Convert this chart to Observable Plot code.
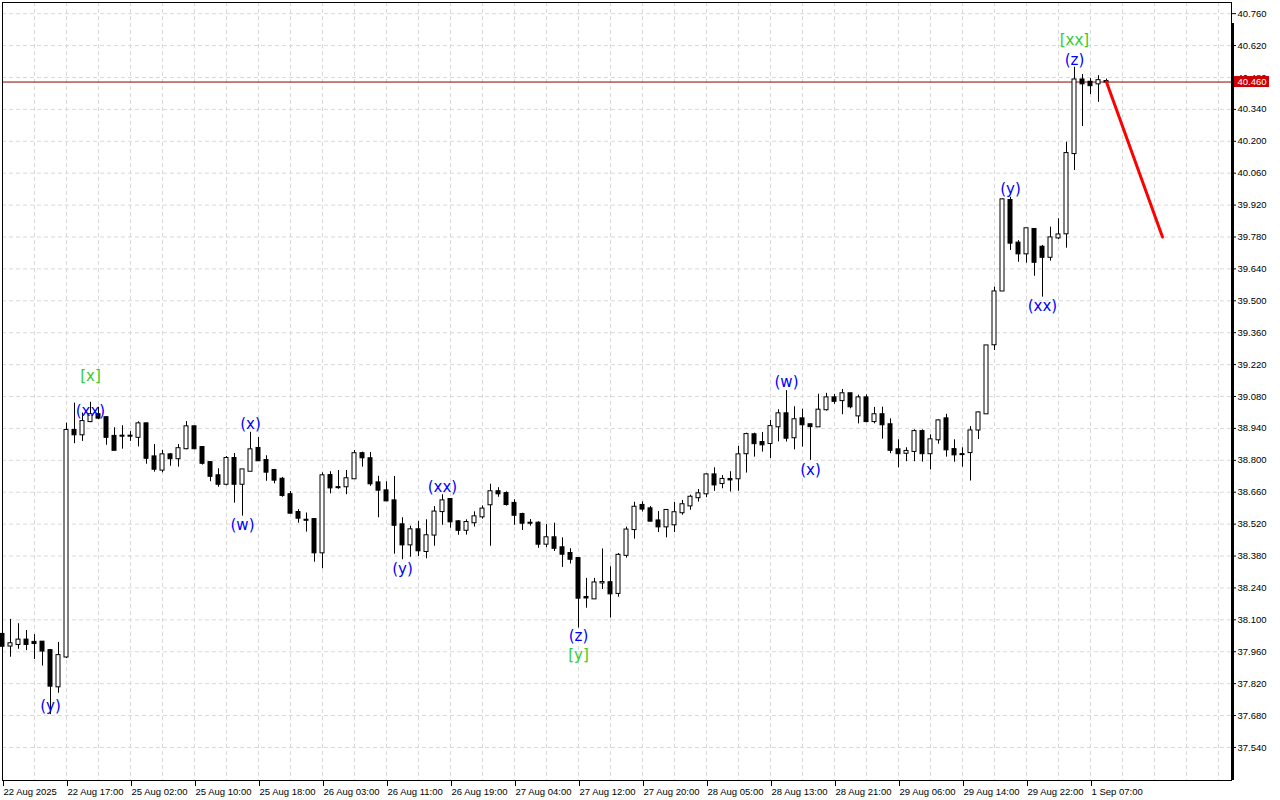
<!DOCTYPE html>
<html>
<head>
<meta charset="utf-8">
<script src="https://cdn.jsdelivr.net/npm/d3@7"></script>
<script src="https://cdn.jsdelivr.net/npm/@observablehq/plot@0.6"></script>
<style>
html,body{margin:0;padding:0;background:#fff;overflow:hidden}
#chart svg{display:block}
</style>
</head>
<body>
<div id="chart"></div>
<script>
// Hourly bars (index 0 = 22 Aug 2025 09:00)
const opens = [38.036,37.985,37.992,38.011,38.001,38.002,37.965,37.806,37.937,38.931,38.912,38.970,39.000,38.987,38.905,38.906,38.906,38.901,38.960,38.815,38.757,38.824,38.807,38.851,38.947,38.856,38.790,38.732,38.695,38.808,38.695,38.752,38.852,38.799,38.755,38.717,38.649,38.571,38.537,38.540,38.394,38.733,38.680,38.684,38.719,38.829,38.807,38.701,38.666,38.622,38.517,38.429,38.495,38.400,38.472,38.575,38.628,38.530,38.493,38.526,38.552,38.605,38.662,38.654,38.611,38.562,38.524,38.524,38.432,38.460,38.416,38.391,38.369,38.198,38.192,38.262,38.263,38.216,38.383,38.496,38.602,38.587,38.534,38.508,38.517,38.570,38.600,38.636,38.653,38.736,38.698,38.716,38.719,38.829,38.912,38.878,38.874,38.947,39.004,38.899,38.982,38.956,38.947,39.022,39.074,39.062,39.092,38.995,39.074,38.970,39.000,38.956,38.846,38.831,38.839,38.926,38.829,38.890,38.982,38.847,38.825,38.834,38.933,39.004,39.307,39.543,39.940,39.753,39.706,39.813,39.735,39.691,39.776,39.794,40.146,40.469,40.459,40.452,40.462];
const highs = [38.088,38.102,38.083,38.053,38.035,38.005,37.970,38.001,38.963,39.051,39.007,39.055,39.033,38.992,38.943,38.952,38.926,38.969,38.963,38.869,38.844,38.830,38.869,38.970,38.950,38.859,38.793,38.763,38.817,38.830,38.758,38.923,38.900,38.820,38.760,38.725,38.663,38.584,38.569,38.540,38.745,38.750,38.755,38.755,38.843,38.836,38.834,38.730,38.706,38.729,38.548,38.511,38.532,38.539,38.597,38.649,38.632,38.536,38.539,38.574,38.600,38.695,38.680,38.662,38.627,38.568,38.540,38.530,38.518,38.524,38.460,38.412,38.369,38.282,38.282,38.411,38.333,38.391,38.507,38.616,38.618,38.597,38.575,38.584,38.615,38.624,38.647,38.672,38.741,38.767,38.733,38.750,38.861,38.919,38.919,38.922,38.975,39.022,39.106,39.035,39.024,38.956,39.090,39.094,39.089,39.111,39.094,39.086,39.087,39.032,39.033,38.982,38.890,38.855,38.934,38.934,38.912,38.978,39.002,38.890,38.855,38.948,39.012,39.302,39.560,39.947,39.954,39.764,39.816,39.813,39.743,39.823,39.860,40.196,40.525,40.493,40.475,40.488,40.473];
const lows = [37.957,37.936,37.971,37.965,37.926,37.897,37.684,37.778,37.930,38.873,38.883,38.965,38.978,38.866,38.844,38.849,38.883,38.859,38.783,38.748,38.745,38.774,38.770,38.846,38.846,38.779,38.706,38.682,38.688,38.612,38.555,38.752,38.796,38.708,38.697,38.638,38.564,38.524,38.485,38.353,38.324,38.653,38.673,38.649,38.719,38.770,38.686,38.548,38.622,38.388,38.364,38.375,38.378,38.368,38.423,38.515,38.502,38.471,38.472,38.507,38.542,38.423,38.638,38.599,38.515,38.492,38.511,38.414,38.416,38.400,38.330,38.345,38.064,38.151,38.190,38.233,38.108,38.199,38.371,38.454,38.573,38.530,38.483,38.460,38.483,38.559,38.581,38.617,38.636,38.664,38.675,38.661,38.664,38.744,38.814,38.836,38.808,38.881,38.880,38.846,38.858,38.800,38.947,39.016,39.046,39.000,39.026,38.960,38.965,38.960,38.893,38.829,38.767,38.794,38.794,38.792,38.758,38.871,38.814,38.792,38.770,38.709,38.891,39.004,39.282,39.541,39.721,39.669,39.665,39.608,39.516,39.674,39.768,39.731,40.072,40.265,40.405,40.371,40.453];
const closes = [37.984,37.995,38.011,37.992,37.996,37.963,37.809,37.943,38.931,38.912,38.970,39.000,38.985,38.901,38.844,38.906,38.906,38.960,38.809,38.761,38.824,38.807,38.851,38.947,38.851,38.787,38.730,38.695,38.808,38.695,38.758,38.846,38.798,38.748,38.713,38.646,38.568,38.546,38.537,38.394,38.732,38.679,38.680,38.719,38.829,38.811,38.697,38.669,38.622,38.515,38.429,38.495,38.403,38.469,38.573,38.622,38.530,38.493,38.527,38.552,38.586,38.662,38.653,38.606,38.559,38.524,38.524,38.432,38.460,38.414,38.388,38.366,38.195,38.196,38.262,38.264,38.214,38.383,38.494,38.594,38.586,38.533,38.508,38.580,38.570,38.605,38.638,38.653,38.736,38.692,38.716,38.714,38.824,38.913,38.873,38.868,38.948,39.004,38.897,38.978,38.956,38.948,39.020,39.074,39.059,39.092,39.035,39.074,38.970,39.000,38.956,38.844,38.829,38.839,38.926,38.829,38.890,38.973,38.846,38.824,38.825,38.929,39.008,39.302,39.539,39.943,39.753,39.706,39.816,39.669,39.691,39.776,39.789,40.146,40.469,40.452,40.444,40.466,40.460];

// Time-axis labels (every 8th bar)
const timeLabelBars = [0,8,16,24,32,40,48,56,64,72,80,88,96,104,112,120,128,136];
const timeLabels = ["22 Aug 2025","22 Aug 17:00","25 Aug 02:00","25 Aug 10:00","25 Aug 18:00","26 Aug 03:00","26 Aug 11:00","26 Aug 19:00","27 Aug 04:00","27 Aug 12:00","27 Aug 20:00","28 Aug 05:00","28 Aug 13:00","28 Aug 21:00","29 Aug 06:00","29 Aug 14:00","29 Aug 22:00","1 Sep 07:00"];

// Price ticks
const priceTicks = [37.54,37.68,37.82,37.96,38.10,38.24,38.38,38.52,38.66,38.80,38.94,39.08,39.22,39.36,39.50,39.64,39.78,39.92,40.06,40.20,40.34,40.48,40.62,40.76];
const currentPrice = 40.460;

// Elliott wave labels
const waveText  = ["(y)","[x]","(xx)","(x)","(w)","(y)","(xx)","(z)","[y]","(w)","(x)","(y)","(xx)","(z)","[xx]"];
const waveBar   = [6,11,11,31,30,50,55,72,72,98,101,126,130,134,134];
const wavePrice = [37.722,39.168,39.014,38.957,38.514,38.322,38.684,38.029,37.945,39.141,38.757,39.988,39.475,40.554,40.642];

// Forecast line
const forecastBars = [138,145];
const forecastPrices = [40.460,39.780];

const bars = opens.map((o,i)=>({i, o, h: highs[i], l: lows[i], c: closes[i]}));
const upBars = bars.filter(d => d.c > d.o);
const downBars = bars.filter(d => d.c <= d.o);
const gridBars = d3.range(0, 154, 4);
const waves = waveText.map((t,k)=>({t, i: waveBar[k], p: wavePrice[k]}));
const forecast = forecastBars.map((b,k)=>({i: b, p: forecastPrices[k]}));
const labelMap = new Map(timeLabelBars.map((b,k)=>[b, timeLabels[k]]));
const xMax = 153.625;

const chart = Plot.plot({
  width: 1280,
  height: 800,
  marginLeft: 2,
  marginRight: 49,
  marginTop: 2,
  marginBottom: 20,
  style: {fontFamily: "'Liberation Sans', Arial, sans-serif", fontSize: "9.5px", background: "white", color: "black", overflow: "visible"},
  x: {domain: [0, xMax]},
  y: {domain: [37.395, 40.809]},
  marks: [
    Plot.gridY(priceTicks, {stroke: "#d9d9d9", strokeOpacity: 1, strokeDasharray: "4,3"}),
    Plot.gridX(gridBars, {stroke: "#d9d9d9", strokeOpacity: 1, strokeDasharray: "4,3"}),
    Plot.ruleY([currentPrice], {stroke: "#8e0000"}),
    Plot.ruleX(bars, {x: "i", y1: "l", y2: "h", stroke: "black"}),
    Plot.rect(upBars, {x1: d => d.i - 0.25, x2: d => d.i + 0.25, y1: "o", y2: "c", fill: "white", stroke: "black", insetTop: -0.5, insetBottom: -0.5}),
    Plot.rect(downBars, {x1: d => d.i - 0.25, x2: d => d.i + 0.25, y1: "o", y2: "c", fill: "black", stroke: "black", insetTop: -0.5, insetBottom: -0.5}),
    Plot.line(forecast, {x: "i", y: "p", stroke: "#ff0000", strokeWidth: 3}),
    Plot.text(waves, {x: "i", y: "p", text: "t", fill: d => d.t.startsWith("[") ? "#32cd32" : "#0000ff", fontFamily: "'DejaVu Sans', sans-serif", fontSize: 15}),
    Plot.frame({stroke: "black"}),
    Plot.ruleX([xMax], {stroke: "black", strokeWidth: 3, insetTop: 21, dx: 1}),
    Plot.axisX(timeLabelBars, {tickFormat: d => labelMap.get(d), textAnchor: "start", tickSize: 6, tickPadding: 2, dx: 1, label: null}),
    Plot.axisY(priceTicks, {anchor: "right", tickFormat: d3.format(".3f"), tickSize: 4, tickPadding: 2, label: null}),
    Plot.rect([currentPrice], {y1: d => d, y2: d => d, insetTop: -5.5, insetBottom: -5.5, insetLeft: 1232, insetRight: -38, fill: "#cc0000"}),
    Plot.text([currentPrice], {y: d => d, text: d => d.toFixed(3), frameAnchor: "right", dx: 6, textAnchor: "start", fill: "white"})
  ]
});
document.getElementById("chart").appendChild(chart);
</script>
</body>
</html>
